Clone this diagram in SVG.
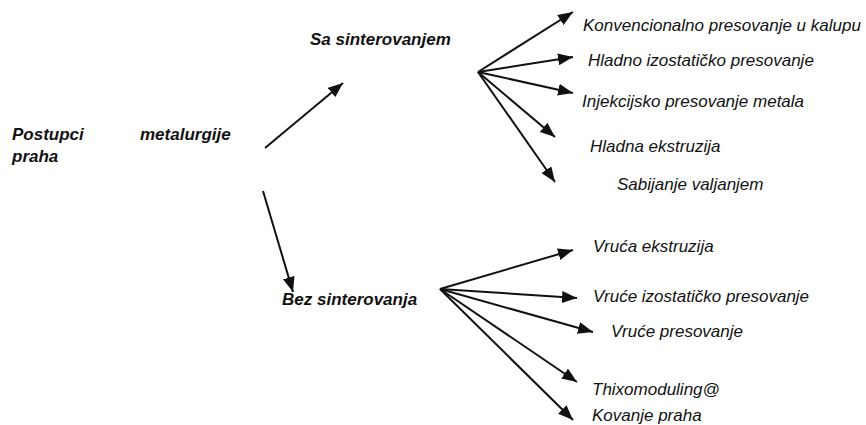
<svg xmlns="http://www.w3.org/2000/svg" width="866" height="425" viewBox="0 0 866 425">
<style>
text{font-family:"Liberation Sans",Arial,sans-serif;font-size:17px;font-style:italic;fill:#111}
.b{font-weight:bold}
.c line{stroke:#111;stroke-width:2;marker-end:url(#ah)}
</style>
<defs>
<marker id="ah" markerUnits="userSpaceOnUse" markerWidth="16" markerHeight="12" refX="15" refY="6" orient="auto">
<path d="M0,0 L15,6 L0,12 Z" fill="#111"/>
</marker>
</defs>
<rect width="866" height="425" fill="#fff"/>
<g id="root"><text class="b" x="12" y="140">Postupci</text><text class="b" x="140" y="140">metalurgije</text><text class="b" x="12" y="162">praha</text></g>
<g id="sa"><text class="b" x="310" y="45">Sa sinterovanjem</text></g>
<g id="bez"><text class="b" x="282" y="305">Bez sinterovanja</text></g>
<g id="n1"><text x="583" y="31">Konvencionalno presovanje u kalupu</text></g>
<g id="n2"><text x="588" y="66">Hladno izostatičko presovanje</text></g>
<g id="n3"><text x="582" y="107">Injekcijsko presovanje metala</text></g>
<g id="n4"><text x="590" y="152">Hladna ekstruzija</text></g>
<g id="n5"><text x="617" y="190">Sabijanje valjanjem</text></g>
<g id="n6"><text x="593" y="252">Vruća ekstruzija</text></g>
<g id="n7"><text x="593" y="302">Vruće izostatičko presovanje</text></g>
<g id="n8"><text x="611" y="337">Vruće presovanje</text></g>
<g id="n9"><text x="592" y="395">Thixomoduling@</text></g>
<g id="n10"><text x="592" y="421">Kovanje praha</text></g>
<g class="c" id="connectors">
<line x1="265" y1="148" x2="343" y2="83"/>
<line x1="263" y1="191" x2="293" y2="292"/>
<line x1="478" y1="72" x2="573" y2="12"/>
<line x1="478" y1="72" x2="573" y2="57"/>
<line x1="478" y1="72" x2="573" y2="93"/>
<line x1="478" y1="72" x2="555" y2="137"/>
<line x1="478" y1="72" x2="555" y2="182"/>
<line x1="440" y1="289" x2="573" y2="250"/>
<line x1="440" y1="289" x2="577" y2="298"/>
<line x1="440" y1="289" x2="593" y2="332"/>
<line x1="440" y1="289" x2="577" y2="382"/>
<line x1="440" y1="289" x2="573" y2="420"/>
</g>
</svg>
